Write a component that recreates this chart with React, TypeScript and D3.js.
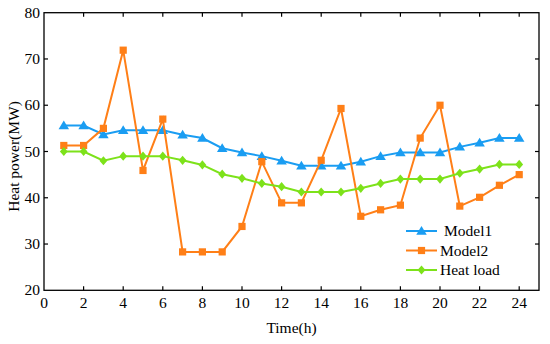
import React from "react";
import * as d3 from "d3";

const hours = [1,2,3,4,5,6,7,8,9,10,11,12,13,14,15,16,17,18,19,20,21,22,23,24];
const model1 = [55.6,55.6,53.7,54.6,54.6,54.6,53.6,52.9,50.7,49.8,49.0,48.0,46.9,46.9,46.9,47.8,49.0,49.8,49.8,49.8,51.0,51.9,52.9,52.9];
const model2 = [51.3,51.3,55.0,71.9,45.9,57.0,28.3,28.3,28.3,33.8,47.8,38.9,38.9,48.1,59.3,36.0,37.4,38.4,52.9,60.0,38.2,40.1,42.7,45.0];
const heatLoad = [50.0,50.0,48.0,49.0,49.0,49.0,48.1,47.1,45.1,44.2,43.1,42.4,41.25,41.25,41.25,42.05,43.1,44.05,44.05,44.05,45.3,46.2,47.2,47.2];
const xTicks = [0,2,4,6,8,10,12,14,16,18,20,22,24];
const yTicks = [20,30,40,50,60,70,80];
const seriesNames = ["Model1", "Model2", "Heat load"];

const W = 550, H = 344;
const L = 44, R = 539, T = 12.7, B = 290.3;
const font = "'Liberation Serif', 'Times New Roman', serif";
const FS = 15.5;

export default function App() {
  const x = d3.scaleLinear().domain([0, 25]).range([L, R]);
  const y = d3.scaleLinear().domain([20, 80]).range([B, T]);
  const line = d3.line<number>().x((_, i) => x(hours[i])).y((d) => y(d));
  const colors = ["#1A9DF2", "#FF7F17", "#7DE21A"];
  const data = [model1, model2, heatLoad];

  const marker = (k: number, cx: number, cy: number, key: string | number) => {
    const c = colors[k];
    if (k === 0) {
      const s = 5;
      return <path key={key} d={`M${cx},${cy - s}L${cx + s * 1.05},${cy + s * 0.75}L${cx - s * 1.05},${cy + s * 0.75}Z`} fill={c} />;
    } else if (k === 1) {
      const s = 3.6;
      return <rect key={key} x={cx - s} y={cy - s} width={2 * s} height={2 * s} fill={c} />;
    } else {
      const s = 4.6;
      return <path key={key} d={`M${cx},${cy - s}L${cx + s * 0.85},${cy}L${cx},${cy + s}L${cx - s * 0.85},${cy}Z`} fill={c} />;
    }
  };

  const legendY = [231, 250.5, 270];
  return (
    <svg width={W} height={H} style={{ position: "absolute", left: 0, top: 0, background: "#fff" }} fontFamily={font}>
      {data.map((d, k) => (
        <g key={k}>
          <path d={line(d) || ""} fill="none" stroke={colors[k]} strokeWidth={2} />
          {d.map((v, i) => marker(k, x(hours[i]), y(v), i))}
        </g>
      ))}
      <rect x={L} y={T} width={R - L} height={B - T} fill="none" stroke="#000" strokeWidth={1.3} />
      {xTicks.map((t) => (
        <g key={"x" + t}>
          {t !== 0 && <line x1={x(t)} x2={x(t)} y1={B} y2={B - 4} stroke="#000" strokeWidth={1.2} />}
          {t !== 0 && <line x1={x(t)} x2={x(t)} y1={T} y2={T + 4} stroke="#000" strokeWidth={1.2} />}
          <text x={x(t)} y={307.5} textAnchor="middle" fontSize={FS} fill="#000">{t}</text>
        </g>
      ))}
      {yTicks.map((t) => (
        <g key={"y" + t}>
          {t !== 20 && t !== 80 && <line x1={L} x2={L + 4} y1={y(t)} y2={y(t)} stroke="#000" strokeWidth={1.2} />}
          {t !== 20 && t !== 80 && <line x1={R} x2={R - 4} y1={y(t)} y2={y(t)} stroke="#000" strokeWidth={1.2} />}
          <text x={40} y={y(t) + 5} textAnchor="end" fontSize={FS} fill="#000">{t}</text>
        </g>
      ))}
      <text x={(L + R) / 2} y={333} textAnchor="middle" fontSize={FS} fill="#000">Time(h)</text>
      <text transform={`translate(19,${(T + B) / 2 + 5}) rotate(-90)`} textAnchor="middle" fontSize={FS} fill="#000">Heat power(MW)</text>
      {seriesNames.map((n, k) => (
        <g key={n}>
          <line x1={406} x2={437} y1={legendY[k]} y2={legendY[k]} stroke={colors[k]} strokeWidth={2} />
          {marker(k, 421.5, legendY[k], "m" + k)}
          <text x={k === 0 ? 444 : 440} y={legendY[k] + 5} fontSize={FS} fill="#000">{n}</text>
        </g>
      ))}
    </svg>
  );
}
